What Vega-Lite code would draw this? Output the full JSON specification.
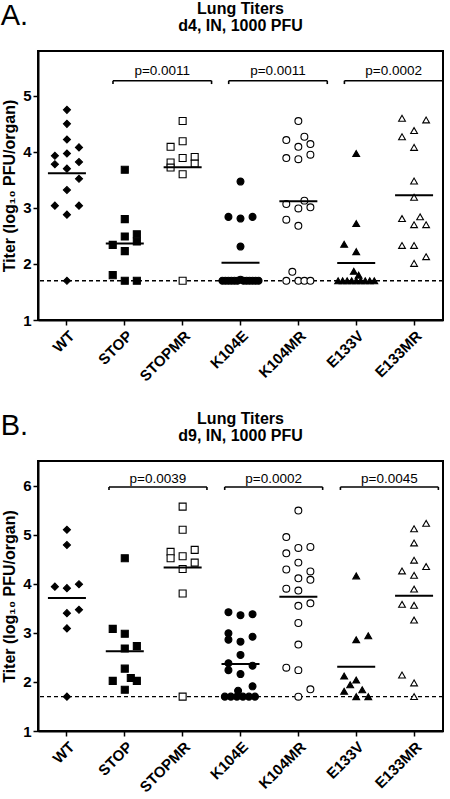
{
  "$schema": "https://vega.github.io/schema/vega-lite/v6.json",
  "padding": {"left": 0, "top": 0, "right": 0, "bottom": 0},
  "spacing": 25,
  "datasets": {
    "d4": [
      {"group": "WT", "titer": 4.75, "col": 0}, {"group": "WT", "titer": 4.5, "col": 0}, {"group": "WT", "titer": 4.22, "col": 0},
      {"group": "WT", "titer": 4.08, "col": 1}, {"group": "WT", "titer": 3.93, "col": -1}, {"group": "WT", "titer": 3.97, "col": 0},
      {"group": "WT", "titer": 3.78, "col": -1}, {"group": "WT", "titer": 3.82, "col": 1}, {"group": "WT", "titer": 3.7, "col": 0},
      {"group": "WT", "titer": 3.52, "col": 1}, {"group": "WT", "titer": 3.32, "col": 0}, {"group": "WT", "titer": 3.04, "col": -1},
      {"group": "WT", "titer": 3.04, "col": 1}, {"group": "WT", "titer": 2.88, "col": 0}, {"group": "WT", "titer": 1.7, "col": 0},
      {"group": "STOP", "titer": 3.68, "col": 0}, {"group": "STOP", "titer": 2.8, "col": 0}, {"group": "STOP", "titer": 2.49, "col": 0},
      {"group": "STOP", "titer": 2.53, "col": 1}, {"group": "STOP", "titer": 2.4, "col": 1}, {"group": "STOP", "titer": 2.34, "col": -1},
      {"group": "STOP", "titer": 2.23, "col": 0}, {"group": "STOP", "titer": 1.8, "col": -1}, {"group": "STOP", "titer": 1.7, "col": 0},
      {"group": "STOP", "titer": 1.7, "col": 1},
      {"group": "STOPMR", "titer": 4.55, "col": 0}, {"group": "STOPMR", "titer": 4.19, "col": 0}, {"group": "STOPMR", "titer": 4.09, "col": -1},
      {"group": "STOPMR", "titer": 3.89, "col": 0}, {"group": "STOPMR", "titer": 3.91, "col": 1}, {"group": "STOPMR", "titer": 3.81, "col": -1},
      {"group": "STOPMR", "titer": 3.79, "col": 1}, {"group": "STOPMR", "titer": 3.72, "col": -1}, {"group": "STOPMR", "titer": 3.6, "col": 0},
      {"group": "STOPMR", "titer": 1.7, "col": 0},
      {"group": "K104E", "titer": 3.47, "col": 0}, {"group": "K104E", "titer": 2.84, "col": -1}, {"group": "K104E", "titer": 2.81, "col": 0},
      {"group": "K104E", "titer": 2.84, "col": 1}, {"group": "K104E", "titer": 2.31, "col": 0},
      {"group": "K104E", "titer": 1.7, "col": -1.5}, {"group": "K104E", "titer": 1.7, "col": -1.25}, {"group": "K104E", "titer": 1.7, "col": -1},
      {"group": "K104E", "titer": 1.7, "col": -0.75}, {"group": "K104E", "titer": 1.7, "col": -0.5}, {"group": "K104E", "titer": 1.7, "col": -0.25},
      {"group": "K104E", "titer": 1.72, "col": 0}, {"group": "K104E", "titer": 1.7, "col": 0.25}, {"group": "K104E", "titer": 1.7, "col": 0.5},
      {"group": "K104E", "titer": 1.7, "col": 0.75}, {"group": "K104E", "titer": 1.7, "col": 1}, {"group": "K104E", "titer": 1.7, "col": 1.25},
      {"group": "K104E", "titer": 1.7, "col": 1.5},
      {"group": "K104MR", "titer": 4.55, "col": 0}, {"group": "K104MR", "titer": 4.21, "col": -1}, {"group": "K104MR", "titer": 4.27, "col": 0.5},
      {"group": "K104MR", "titer": 4.14, "col": 1}, {"group": "K104MR", "titer": 4.09, "col": 0}, {"group": "K104MR", "titer": 3.89, "col": -1},
      {"group": "K104MR", "titer": 3.87, "col": 0}, {"group": "K104MR", "titer": 3.95, "col": 1}, {"group": "K104MR", "titer": 3.13, "col": 0.5},
      {"group": "K104MR", "titer": 3.07, "col": -1}, {"group": "K104MR", "titer": 2.99, "col": 0}, {"group": "K104MR", "titer": 3.01, "col": 1},
      {"group": "K104MR", "titer": 2.79, "col": -1}, {"group": "K104MR", "titer": 2.68, "col": 0}, {"group": "K104MR", "titer": 1.86, "col": -0.5},
      {"group": "K104MR", "titer": 1.7, "col": -1}, {"group": "K104MR", "titer": 1.7, "col": 0}, {"group": "K104MR", "titer": 1.7, "col": 0.5},
      {"group": "K104MR", "titer": 1.7, "col": 1},
      {"group": "E133V", "titer": 3.97, "col": 0}, {"group": "E133V", "titer": 2.72, "col": 0}, {"group": "E133V", "titer": 2.35, "col": -1},
      {"group": "E133V", "titer": 2.22, "col": 0}, {"group": "E133V", "titer": 1.87, "col": -0.2}, {"group": "E133V", "titer": 1.8, "col": 0.2},
      {"group": "E133V", "titer": 1.7, "col": -1.5}, {"group": "E133V", "titer": 1.7, "col": -1.125}, {"group": "E133V", "titer": 1.7, "col": -0.75},
      {"group": "E133V", "titer": 1.7, "col": -0.375}, {"group": "E133V", "titer": 1.7, "col": 0}, {"group": "E133V", "titer": 1.7, "col": 0.375},
      {"group": "E133V", "titer": 1.7, "col": 0.75}, {"group": "E133V", "titer": 1.7, "col": 1.125}, {"group": "E133V", "titer": 1.7, "col": 1.5},
      {"group": "E133MR", "titer": 4.6, "col": -1}, {"group": "E133MR", "titer": 4.57, "col": 1}, {"group": "E133MR", "titer": 4.38, "col": 0},
      {"group": "E133MR", "titer": 4.27, "col": -1}, {"group": "E133MR", "titer": 4.08, "col": 0}, {"group": "E133MR", "titer": 3.48, "col": 0},
      {"group": "E133MR", "titer": 3.19, "col": 0}, {"group": "E133MR", "titer": 2.81, "col": -1}, {"group": "E133MR", "titer": 2.84, "col": 0.5},
      {"group": "E133MR", "titer": 2.7, "col": 0}, {"group": "E133MR", "titer": 2.7, "col": 1}, {"group": "E133MR", "titer": 2.33, "col": -1},
      {"group": "E133MR", "titer": 2.33, "col": 0}, {"group": "E133MR", "titer": 2.13, "col": 1}, {"group": "E133MR", "titer": 2.01, "col": 0}
    ],
    "d9": [
      {"group": "WT", "titer": 5.1, "col": 0}, {"group": "WT", "titer": 4.79, "col": 0}, {"group": "WT", "titer": 3.94, "col": -1},
      {"group": "WT", "titer": 3.91, "col": 0}, {"group": "WT", "titer": 3.99, "col": 1}, {"group": "WT", "titer": 3.47, "col": 1},
      {"group": "WT", "titer": 3.4, "col": 0}, {"group": "WT", "titer": 3.09, "col": 0}, {"group": "WT", "titer": 1.7, "col": 0},
      {"group": "STOP", "titer": 4.52, "col": 0}, {"group": "STOP", "titer": 3.08, "col": -1}, {"group": "STOP", "titer": 2.98, "col": 0},
      {"group": "STOP", "titer": 2.73, "col": 1}, {"group": "STOP", "titer": 2.68, "col": 0}, {"group": "STOP", "titer": 2.27, "col": 0},
      {"group": "STOP", "titer": 2.02, "col": -1}, {"group": "STOP", "titer": 2.08, "col": 0.5}, {"group": "STOP", "titer": 2.02, "col": 1},
      {"group": "STOP", "titer": 1.84, "col": 0},
      {"group": "STOPMR", "titer": 5.57, "col": 0}, {"group": "STOPMR", "titer": 5.1, "col": 0}, {"group": "STOPMR", "titer": 4.65, "col": -1},
      {"group": "STOPMR", "titer": 4.69, "col": 1}, {"group": "STOPMR", "titer": 4.52, "col": -1}, {"group": "STOPMR", "titer": 4.56, "col": 0},
      {"group": "STOPMR", "titer": 4.43, "col": 1}, {"group": "STOPMR", "titer": 4.3, "col": 0}, {"group": "STOPMR", "titer": 3.8, "col": 0},
      {"group": "STOPMR", "titer": 1.7, "col": 0},
      {"group": "K104E", "titer": 3.42, "col": -1}, {"group": "K104E", "titer": 3.36, "col": 0}, {"group": "K104E", "titer": 3.38, "col": 1},
      {"group": "K104E", "titer": 2.99, "col": -1}, {"group": "K104E", "titer": 2.86, "col": -1}, {"group": "K104E", "titer": 2.82, "col": 0},
      {"group": "K104E", "titer": 2.92, "col": 1}, {"group": "K104E", "titer": 2.55, "col": 0}, {"group": "K104E", "titer": 2.38, "col": -1},
      {"group": "K104E", "titer": 2.24, "col": -1}, {"group": "K104E", "titer": 2.33, "col": 1}, {"group": "K104E", "titer": 2.16, "col": 0},
      {"group": "K104E", "titer": 1.91, "col": 1}, {"group": "K104E", "titer": 1.82, "col": -0.2},
      {"group": "K104E", "titer": 1.7, "col": -1.3}, {"group": "K104E", "titer": 1.7, "col": -0.8}, {"group": "K104E", "titer": 1.7, "col": -0.3},
      {"group": "K104E", "titer": 1.7, "col": 0.2}, {"group": "K104E", "titer": 1.7, "col": 0.7}, {"group": "K104E", "titer": 1.7, "col": 1.2},
      {"group": "K104MR", "titer": 5.49, "col": 0}, {"group": "K104MR", "titer": 4.95, "col": -1}, {"group": "K104MR", "titer": 4.73, "col": 0},
      {"group": "K104MR", "titer": 4.75, "col": 1}, {"group": "K104MR", "titer": 4.62, "col": -1}, {"group": "K104MR", "titer": 4.43, "col": 0},
      {"group": "K104MR", "titer": 4.29, "col": -1}, {"group": "K104MR", "titer": 4.25, "col": 1}, {"group": "K104MR", "titer": 4.11, "col": 0},
      {"group": "K104MR", "titer": 4.08, "col": 1}, {"group": "K104MR", "titer": 3.9, "col": -1}, {"group": "K104MR", "titer": 3.86, "col": 0},
      {"group": "K104MR", "titer": 3.55, "col": 0}, {"group": "K104MR", "titer": 3.6, "col": 1}, {"group": "K104MR", "titer": 3.2, "col": 0},
      {"group": "K104MR", "titer": 2.76, "col": 0}, {"group": "K104MR", "titer": 2.29, "col": -1}, {"group": "K104MR", "titer": 2.24, "col": 0},
      {"group": "K104MR", "titer": 1.85, "col": 1}, {"group": "K104MR", "titer": 1.7, "col": 0},
      {"group": "E133V", "titer": 4.16, "col": 0}, {"group": "E133V", "titer": 2.86, "col": 0}, {"group": "E133V", "titer": 2.94, "col": 1},
      {"group": "E133V", "titer": 2.12, "col": -1}, {"group": "E133V", "titer": 2.04, "col": 0}, {"group": "E133V", "titer": 1.94, "col": -0.5},
      {"group": "E133V", "titer": 1.81, "col": -1}, {"group": "E133V", "titer": 1.84, "col": 0.5}, {"group": "E133V", "titer": 1.7, "col": 0},
      {"group": "E133V", "titer": 1.7, "col": 1},
      {"group": "E133MR", "titer": 5.23, "col": 1}, {"group": "E133MR", "titer": 5.12, "col": 0}, {"group": "E133MR", "titer": 4.83, "col": 0},
      {"group": "E133MR", "titer": 4.48, "col": 0}, {"group": "E133MR", "titer": 4.35, "col": 1}, {"group": "E133MR", "titer": 4.26, "col": -1},
      {"group": "E133MR", "titer": 4.17, "col": 0}, {"group": "E133MR", "titer": 3.89, "col": 0}, {"group": "E133MR", "titer": 3.58, "col": -1},
      {"group": "E133MR", "titer": 3.56, "col": 0}, {"group": "E133MR", "titer": 3.26, "col": 0}, {"group": "E133MR", "titer": 2.14, "col": -1},
      {"group": "E133MR", "titer": 1.98, "col": 0}, {"group": "E133MR", "titer": 1.7, "col": 0}
    ],
    "p4": [
      {"from": "STOP", "to": "STOPMR", "p": "p=0.0011"},
      {"from": "K104E", "to": "K104MR", "p": "p=0.0011"},
      {"from": "E133V", "to": "E133MR", "p": "p=0.0002"}
    ],
    "p9": [
      {"from": "STOP", "to": "STOPMR", "p": "p=0.0039"},
      {"from": "K104E", "to": "K104MR", "p": "p=0.0002"},
      {"from": "E133V", "to": "E133MR", "p": "p=0.0045"}
    ],
    "lim": [{"limit": 1.7}]
  },
  "vconcat": [
    {
      "title": {"text": "A.", "anchor": "start", "frame": "bounds", "fontSize": 29, "fontWeight": "normal", "offset": -31, "color": "black"},
      "vconcat": [
        {
          "width": 405,
          "height": 269,
          "title": {"text": ["Lung Titers", "d4, IN, 1000 PFU"], "anchor": "middle", "frame": "group", "fontSize": 16, "fontWeight": "bold", "lineHeight": 17, "offset": 17, "color": "black"},
          "layer": [
            {
              "data": {"name": "lim"},
              "mark": {"type": "rule", "strokeDash": [4, 3], "strokeWidth": 1.4, "color": "black"},
              "encoding": {"y": {"field": "limit", "type": "quantitative", "scale": {"domain": [1, 5.8], "nice": false, "zero": false}}}
            },
            {
              "data": {"name": "d4"},
              "mark": {"type": "point", "filled": true, "stroke": "black", "strokeWidth": 1.1, "opacity": 1},
              "encoding": {
                "x": {"field": "group", "type": "nominal", "scale": {"domain": ["WT", "STOP", "STOPMR", "K104E", "K104MR", "E133V", "E133MR"], "paddingInner": 0, "paddingOuter": 0}, "axis": {"title": null}},
                "xOffset": {"field": "col", "type": "quantitative", "scale": {"domain": [-2.4, 2.4]}},
                "y": {"field": "titer", "type": "quantitative", "scale": {"domain": [1, 5.8], "nice": false, "zero": false}, "axis": {"title": "Titer (log₁₀ PFU/organ)", "values": [1, 2, 3, 4, 5], "format": "d"}},
                "shape": {"field": "group", "type": "nominal", "scale": {"domain": ["WT", "STOP", "STOPMR", "K104E", "K104MR", "E133V", "E133MR"], "range": ["diamond", "square", "square", "circle", "circle", "triangle-up", "triangle-up"]}, "legend": null},
                "fill": {"field": "group", "type": "nominal", "scale": {"domain": ["WT", "STOP", "STOPMR", "K104E", "K104MR", "E133V", "E133MR"], "range": ["black", "black", "white", "black", "white", "black", "white"]}, "legend": null},
                "size": {"field": "group", "type": "nominal", "scale": {"domain": ["WT", "STOP", "STOPMR", "K104E", "K104MR", "E133V", "E133MR"], "range": [50, 46, 46, 44, 46, 54, 66]}, "legend": null}
              }
            },
            {
              "data": {"name": "d4"},
              "mark": {"type": "tick", "color": "black", "size": 38, "thickness": 2},
              "encoding": {
                "x": {"field": "group", "type": "nominal", "scale": {"domain": ["WT", "STOP", "STOPMR", "K104E", "K104MR", "E133V", "E133MR"]}},
                "y": {"aggregate": "mean", "field": "titer", "type": "quantitative"}
              }
            },
            {
              "data": {"name": "p4"},
              "mark": {"type": "rule", "color": "black", "strokeWidth": 1.6},
              "encoding": {
                "x": {"field": "from", "type": "nominal", "bandPosition": 0.296, "scale": {"domain": ["WT", "STOP", "STOPMR", "K104E", "K104MR", "E133V", "E133MR"]}},
                "x2": {"field": "to", "bandPosition": 1},
                "y": {"datum": 5.27, "type": "quantitative"}
              }
            },
            {
              "data": {"name": "p4"},
              "mark": {"type": "rule", "color": "black", "strokeWidth": 1.6},
              "encoding": {
                "x": {"field": "from", "type": "nominal", "bandPosition": 0.296, "scale": {"domain": ["WT", "STOP", "STOPMR", "K104E", "K104MR", "E133V", "E133MR"]}},
                "y": {"datum": 5.27, "type": "quantitative"},
                "y2": {"datum": 5.21}
              }
            },
            {
              "data": {"name": "p4"},
              "mark": {"type": "rule", "color": "black", "strokeWidth": 1.6},
              "encoding": {
                "x": {"field": "to", "type": "nominal", "bandPosition": 1, "scale": {"domain": ["WT", "STOP", "STOPMR", "K104E", "K104MR", "E133V", "E133MR"]}},
                "y": {"datum": 5.27, "type": "quantitative"},
                "y2": {"datum": 5.21}
              }
            },
            {
              "data": {"name": "p4"},
              "mark": {"type": "text", "color": "black", "fontSize": 13.5, "baseline": "middle", "align": "center"},
              "encoding": {
                "x": {"field": "to", "type": "nominal", "bandPosition": 0.148, "scale": {"domain": ["WT", "STOP", "STOPMR", "K104E", "K104MR", "E133V", "E133MR"]}},
                "y": {"datum": 5.44, "type": "quantitative"},
                "text": {"field": "p", "type": "nominal"}
              }
            }
          ]
        }
      ]
    },
    {
      "title": {"text": "B.", "anchor": "start", "frame": "bounds", "fontSize": 29, "fontWeight": "normal", "offset": -31, "color": "black"},
      "vconcat": [
        {
          "width": 405,
          "height": 270,
          "title": {"text": ["Lung Titers", "d9, IN, 1000 PFU"], "anchor": "middle", "frame": "group", "fontSize": 16, "fontWeight": "bold", "lineHeight": 17, "offset": 17, "color": "black"},
          "layer": [
            {
              "data": {"name": "lim"},
              "mark": {"type": "rule", "strokeDash": [4, 3], "strokeWidth": 1.4, "color": "black"},
              "encoding": {"y": {"field": "limit", "type": "quantitative", "scale": {"domain": [1, 6.5], "nice": false, "zero": false}}}
            },
            {
              "data": {"name": "d9"},
              "mark": {"type": "point", "filled": true, "stroke": "black", "strokeWidth": 1.1, "opacity": 1},
              "encoding": {
                "x": {"field": "group", "type": "nominal", "scale": {"domain": ["WT", "STOP", "STOPMR", "K104E", "K104MR", "E133V", "E133MR"], "paddingInner": 0, "paddingOuter": 0}, "axis": {"title": null}},
                "xOffset": {"field": "col", "type": "quantitative", "scale": {"domain": [-2.4, 2.4]}},
                "y": {"field": "titer", "type": "quantitative", "scale": {"domain": [1, 6.5], "nice": false, "zero": false}, "axis": {"title": "Titer (log₁₀ PFU/organ)", "values": [1, 2, 3, 4, 5, 6], "format": "d"}},
                "shape": {"field": "group", "type": "nominal", "scale": {"domain": ["WT", "STOP", "STOPMR", "K104E", "K104MR", "E133V", "E133MR"], "range": ["diamond", "square", "square", "circle", "circle", "triangle-up", "triangle-up"]}, "legend": null},
                "fill": {"field": "group", "type": "nominal", "scale": {"domain": ["WT", "STOP", "STOPMR", "K104E", "K104MR", "E133V", "E133MR"], "range": ["black", "black", "white", "black", "white", "black", "white"]}, "legend": null},
                "size": {"field": "group", "type": "nominal", "scale": {"domain": ["WT", "STOP", "STOPMR", "K104E", "K104MR", "E133V", "E133MR"], "range": [50, 46, 46, 44, 46, 54, 66]}, "legend": null}
              }
            },
            {
              "data": {"name": "d9"},
              "mark": {"type": "tick", "color": "black", "size": 38, "thickness": 2},
              "encoding": {
                "x": {"field": "group", "type": "nominal", "scale": {"domain": ["WT", "STOP", "STOPMR", "K104E", "K104MR", "E133V", "E133MR"]}},
                "y": {"aggregate": "mean", "field": "titer", "type": "quantitative"}
              }
            },
            {
              "data": {"name": "p9"},
              "mark": {"type": "rule", "color": "black", "strokeWidth": 1.6},
              "encoding": {
                "x": {"field": "from", "type": "nominal", "bandPosition": 0.227, "scale": {"domain": ["WT", "STOP", "STOPMR", "K104E", "K104MR", "E133V", "E133MR"]}},
                "x2": {"field": "to", "bandPosition": 0.92},
                "y": {"datum": 5.97, "type": "quantitative"}
              }
            },
            {
              "data": {"name": "p9"},
              "mark": {"type": "rule", "color": "black", "strokeWidth": 1.6},
              "encoding": {
                "x": {"field": "from", "type": "nominal", "bandPosition": 0.227, "scale": {"domain": ["WT", "STOP", "STOPMR", "K104E", "K104MR", "E133V", "E133MR"]}},
                "y": {"datum": 5.97, "type": "quantitative"},
                "y2": {"datum": 5.91}
              }
            },
            {
              "data": {"name": "p9"},
              "mark": {"type": "rule", "color": "black", "strokeWidth": 1.6},
              "encoding": {
                "x": {"field": "to", "type": "nominal", "bandPosition": 0.92, "scale": {"domain": ["WT", "STOP", "STOPMR", "K104E", "K104MR", "E133V", "E133MR"]}},
                "y": {"datum": 5.97, "type": "quantitative"},
                "y2": {"datum": 5.91}
              }
            },
            {
              "data": {"name": "p9"},
              "mark": {"type": "text", "color": "black", "fontSize": 13.5, "baseline": "middle", "align": "center"},
              "encoding": {
                "x": {"field": "to", "type": "nominal", "bandPosition": 0.073, "scale": {"domain": ["WT", "STOP", "STOPMR", "K104E", "K104MR", "E133V", "E133MR"]}},
                "y": {"datum": 6.14, "type": "quantitative"},
                "text": {"field": "p", "type": "nominal"}
              }
            }
          ]
        }
      ]
    }
  ],
  "config": {
    "font": "Liberation Sans",
    "background": "white",
    "view": {"stroke": "black", "strokeWidth": 2},
    "concat": {"spacing": 25},
    "title": {"font": "Liberation Sans", "color": "black"},
    "axis": {
      "grid": false,
      "domainColor": "black",
      "domainWidth": 2,
      "tickColor": "black",
      "tickWidth": 1.5,
      "tickSize": 5,
      "labelColor": "black",
      "labelFont": "Liberation Sans",
      "labelFontWeight": "bold",
      "labelFontSize": 14,
      "titleColor": "black",
      "titleFont": "Liberation Sans",
      "titleFontWeight": "bold"
    },
    "axisX": {"labelAngle": -45, "labelFontSize": 15, "labelPadding": 3, "title": null},
    "axisY": {"titleFontSize": 16, "titlePadding": 5, "labelPadding": 2, "labelFontSize": 15}
  }
}
